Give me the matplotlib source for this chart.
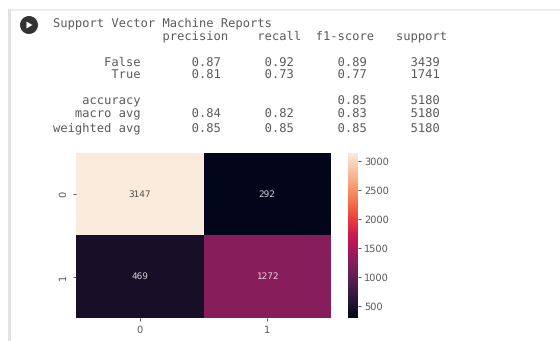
import numpy as np
import matplotlib
matplotlib.use('Agg')
import matplotlib.pyplot as plt
import seaborn as sns
from matplotlib.patches import Circle, Polygon, Rectangle

title = 'Support Vector Machine Reports'
columns = ['precision', 'recall', 'f1-score', 'support']

# classification report rows
class_names = ['False', 'True']
class_precision = [0.87, 0.81]
class_recall = [0.92, 0.73]
class_f1 = [0.89, 0.77]
class_support = [3439, 1741]

accuracy = 0.85
accuracy_support = 5180
avg_names = ['macro avg', 'weighted avg']
avg_precision = [0.84, 0.85]
avg_recall = [0.82, 0.85]
avg_f1 = [0.83, 0.85]
avg_support = [5180, 5180]

# confusion matrix
conf_matrix = [[3147, 292], [469, 1272]]
tick_labels = ['0', '1']
cbar_ticks = [500, 1000, 1500, 2000, 2500, 3000]

W, H = 560, 341
TEXT_COL = '#5a5a5a'

plt.rcParams['text.hinting'] = 'none'

fig = plt.figure(figsize=(W / 100, H / 100), dpi=100, facecolor='white')

# page layer, in pixel coordinates of the screenshot
page = fig.add_axes([0, 0, 1, 1])
page.set_xlim(0, W)
page.set_ylim(H, 0)
page.axis('off')

page.add_patch(Rectangle((8, 9), W - 8, 2, color='#ececec', lw=0))
page.add_patch(Rectangle((8, 9), 3, H - 9, color='#e2e2e2', lw=0))
page.add_patch(Circle((29, 25), 9, color='#333333', lw=0))
page.add_patch(Polygon([[26.5, 21.5], [26.5, 28.5], [32.5, 25]], color='white', lw=0))


def row(label, p, r, f, s):
    p = '{:.2f}'.format(p) if p is not None else ''
    r = '{:.2f}'.format(r) if r is not None else ''
    return '{:>12s}{:>11s}{:>10s}{:>10s}{:>10d}'.format(label, p, r, f'{f:.2f}', s)


header = ' ' * 15 + '{:<13s}{:<8s}{:<11s}{}'.format(*columns)
lines = [(23, title), (36, header)]
for i, name in enumerate(class_names):
    lines.append((62 + 13 * i, row(name, class_precision[i], class_recall[i], class_f1[i], class_support[i])))
lines.append((101.5, row('accuracy', None, None, accuracy, accuracy_support)))
for i, name in enumerate(avg_names):
    lines.append((114.5 + 13.5 * i, row(name, avg_precision[i], avg_recall[i], avg_f1[i], avg_support[i])))

for y, txt in lines:
    page.text(53, y, txt, family='DejaVu Sans Mono', fontsize=8.75, color=TEXT_COL,
              va='center', ha='left')

# heatmap
ax = fig.add_axes([76 / W, 1 - 318 / H, 255 / W, 165 / H])
cax = fig.add_axes([347.5 / W, 1 - 318 / H, 10.5 / W, 165 / H])
sns.heatmap(np.array(conf_matrix), annot=True, fmt='d', ax=ax, cbar_ax=cax,
            annot_kws={'fontsize': 6.4, 'alpha': 0.8},
            xticklabels=tick_labels, yticklabels=tick_labels,
            cbar_kws={'ticks': cbar_ticks})
ax.tick_params(labelsize=7, length=2.5, width=0.7, color='#555555', labelcolor=TEXT_COL, pad=3)
ax.set_yticklabels(tick_labels, rotation=90, va='center')
cax.tick_params(labelsize=7, length=2.5, width=0.7, color='#555555', labelcolor=TEXT_COL, pad=2)

fig.savefig('out.png', dpi=100)
